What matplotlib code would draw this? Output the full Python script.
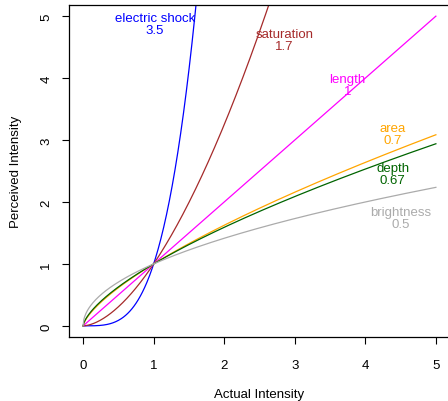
import numpy as np
import matplotlib.pyplot as plt

plt.rcParams['font.family'] = ['Liberation Sans', 'DejaVu Sans']

# Stevens' power law: perceived = actual ** exponent
senses = ['electric shock', 'saturation', 'length', 'area', 'depth', 'brightness']
exponents = [3.5, 1.7, 1, 0.7, 0.67, 0.5]
exp_labels = ['3.5', '1.7', '1', '0.7', '0.67', '0.5']
colors = ['blue', '#A52A2A', 'magenta', 'orange', 'darkgreen', '#ABABAB']
label_x = [1.02, 2.85, 3.75, 4.39, 4.39, 4.5]
label_y = [4.88, 4.62, 3.89, 3.09, 2.45, 1.74]

x = np.linspace(0, 5, 500)

fig = plt.figure(figsize=(4.48, 4.02), dpi=100)
ax = fig.add_axes([69 / 448, 64 / 402, 381 / 448, 332 / 402])

for p, c in zip(exponents, colors):
    ax.plot(x, x ** p, color=c, lw=0.9)

for name, lab, c, tx, ty in zip(senses, exp_labels, colors, label_x, label_y):
    ax.text(tx, ty, name + '\n' + lab, color=c, fontsize=9.5, ha='center', va='center',
            linespacing=1.0)

ax.set_xlim(-0.2, 5.2)
ax.set_ylim(-0.18, 5.18)
ax.set_xticks(range(6))
ax.set_yticks(range(6))
ax.tick_params(length=5, width=0.8, labelsize=9.5)
ax.tick_params(axis='x', pad=11)
ax.tick_params(axis='y', pad=7)
for lbl in ax.get_yticklabels():
    lbl.set_rotation(90)
    lbl.set_va('center')
ax.set_xlabel('Actual Intensity', fontsize=9.5, labelpad=12)
ax.set_ylabel('Perceived Intensity', fontsize=9.5, labelpad=13)
for s in ax.spines.values():
    s.set_linewidth(0.9)

fig.savefig('out.png', dpi=100)
